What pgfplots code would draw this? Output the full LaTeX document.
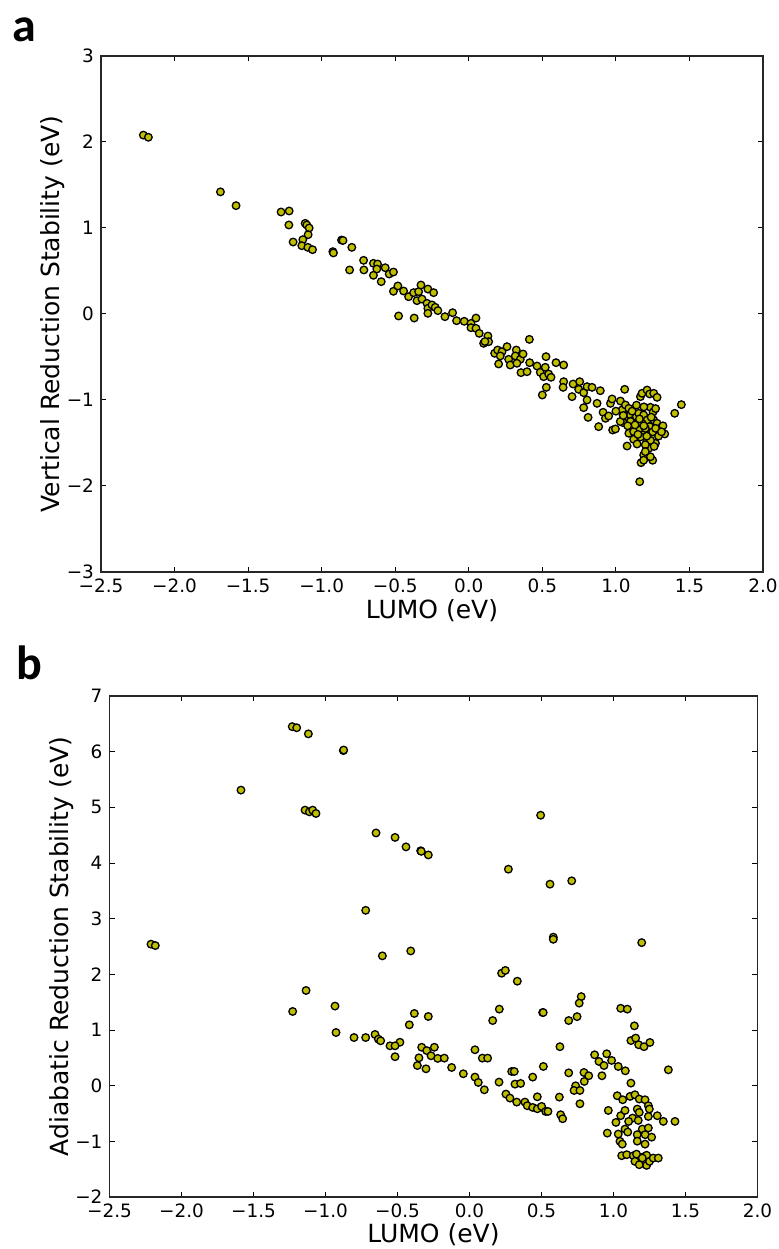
\documentclass[border=0pt]{standalone}
\usepackage{fontspec}
\setmainfont{DejaVu Sans}
\newfontfamily\carlito{Carlito}
\usepackage{pgfplots}
\pgfplotsset{compat=1.18}

\definecolor{mplyellow}{rgb}{0.75,0.75,0}

\pgfplotsset{
  panel/.style={
    scale only axis,
    anchor=south west,
    xmin=-2.5, xmax=2.0,
    xtick={-2.5,-2.0,-1.5,-1.0,-0.5,0,0.5,1.0,1.5,2.0},
    xticklabels={−2.5,−2.0,−1.5,−1.0,−0.5,0.0,0.5,1.0,1.5,2.0},
    tick align=inside,
    major tick length=2.5pt,
    tick style={black, line width=0.5pt},
    axis line style={black!85, line width=0.9pt},
    ticklabel style={font=\fontsize{9.2}{11}\selectfont},
    label style={font=\fontsize{12.5}{15}\selectfont},
    xlabel={LUMO (eV)},
    xlabel style={anchor=center},
    ylabel style={anchor=center},
    clip=false,
  },
  dots/.style={
    only marks, mark=*, mark size=1.9pt,
    mark options={fill=mplyellow, draw=black, line width=0.65pt},
  },
}

\begin{document}
\begin{tikzpicture}
\path[use as bounding box] (0,0) rectangle (389pt,624.5pt);

% panel a
\begin{axis}[panel,
  at={(50.5pt,338.5pt)},
  width=331pt, height=258pt,
  ymin=-3, ymax=3,
  ytick={-3,-2,-1,0,1,2,3},
  yticklabels={−3,−2,−1,0,1,2,3},
  ylabel={Vertical Reduction Stability (eV)},
  xlabel style={at={(axis description cs:0.5,-0.074)}},
  ylabel style={at={(axis description cs:-0.0725,0.5)}},
]
\addplot[dots] table {
-2.212 2.080
-2.178 2.055
-1.688 1.420
-1.582 1.260
-1.276 1.186
-1.221 1.198
-1.223 1.035
-1.112 1.054
-1.101 1.035
-1.085 1.000
-1.092 0.922
-1.128 0.864
-1.194 0.837
-1.135 0.794
-1.094 0.775
-1.062 0.748
-0.924 0.725
-0.920 0.710
-0.865 0.860
-0.855 0.855
-0.795 0.775
-0.810 0.512
-0.715 0.624
-0.713 0.512
-0.648 0.589
-0.620 0.581
-0.625 0.523
-0.648 0.450
-0.595 0.376
-0.568 0.538
-0.541 0.465
-0.512 0.488
-0.512 0.264
-0.482 0.326
-0.477 -0.023
-0.443 0.267
-0.409 0.201
-0.375 0.248
-0.341 0.260
-0.325 0.337
-0.278 0.290
-0.239 0.248
-0.352 0.155
-0.318 0.174
-0.284 0.124
-0.278 0.066
-0.278 0.008
-0.250 0.105
-0.228 0.078
-0.210 0.039
-0.371 -0.047
-0.162 -0.031
-0.110 0.015
-0.083 -0.078
-0.031 -0.085
0.015 -0.109
0.049 -0.047
0.015 -0.159
0.049 -0.167
0.071 -0.225
0.130 -0.256
0.135 -0.322
0.101 -0.341
0.110 -0.320
0.412 -0.295
0.176 -0.457
0.196 -0.419
0.226 -0.438
0.260 -0.380
0.214 -0.488
0.203 -0.581
0.271 -0.527
0.282 -0.593
0.323 -0.419
0.316 -0.488
0.350 -0.527
0.369 -0.465
0.327 -0.573
0.355 -0.682
0.396 -0.671
0.414 -0.566
0.464 -0.605
0.486 -0.678
0.525 -0.496
0.520 -0.620
0.509 -0.729
0.543 -0.698
0.559 -0.736
0.527 -0.853
0.500 -0.942
0.593 -0.566
0.645 -0.593
0.645 -0.787
0.641 -0.853
0.709 -0.814
0.754 -0.787
0.747 -0.876
0.702 -0.961
0.781 -0.915
0.804 -0.845
0.838 -0.853
0.804 -1.000
0.781 -1.089
0.811 -1.202
0.894 -0.892
0.872 -1.039
0.883 -1.310
0.913 -1.143
0.929 -1.213
0.963 -1.039
0.974 -0.988
0.951 -1.186
0.978 -1.349
0.997 -1.337
1.031 -1.012
1.060 -0.876
1.042 -1.116
1.065 -1.058
1.088 -1.097
1.071 -1.194
1.049 -1.264
1.099 -1.174
1.121 -1.233
1.110 -1.310
1.088 -1.387
1.076 -1.535
1.121 -1.457
1.144 -1.512
1.139 -1.194
1.155 -1.155
1.189 -1.174
1.167 -0.961
1.178 -0.922
1.212 -0.884
1.230 -0.930
1.257 -0.922
1.280 -0.969
1.235 -1.085
1.253 -1.140
1.212 -1.233
1.230 -1.310
1.257 -1.233
1.280 -1.271
1.314 -1.310
1.332 -1.395
1.291 -1.368
1.257 -1.426
1.212 -1.387
1.178 -1.387
1.155 -1.349
1.121 -1.368
1.212 -1.465
1.269 -1.504
1.224 -1.562
1.189 -1.640
1.171 -1.729
1.189 -1.700
1.250 -1.701
1.235 -1.660
1.162 -1.950
1.400 -1.155
1.445 -1.054
1.144 -1.271
1.178 -1.271
1.200 -1.330
1.250 -1.370
1.167 -1.430
1.235 -1.470
1.300 -1.330
1.320 -1.300
1.099 -1.250
1.030 -1.250
1.000 -1.130
1.110 -1.130
1.130 -1.290
1.160 -1.220
1.190 -1.300
1.210 -1.420
1.240 -1.200
1.270 -1.330
1.290 -1.420
1.150 -1.400
1.200 -1.520
1.260 -1.540
1.140 -1.060
1.190 -1.080
1.080 -1.300
1.050 -1.180
1.270 -1.100
1.310 -1.370
1.200 -1.600
};
\end{axis}

% panel b
\begin{axis}[panel,
  at={(54.75pt,26pt)},
  width=324pt, height=250.5pt,
  ymin=-2, ymax=7,
  ytick={-2,-1,0,1,2,3,4,5,6,7},
  yticklabels={−2,−1,0,1,2,3,4,5,6,7},
  ylabel={Adiabatic Reduction Stability (eV)},
  xlabel style={at={(axis description cs:0.5,-0.076)}},
  ylabel style={at={(axis description cs:-0.074,0.5)}},
]
\addplot[dots] table {
-2.212 2.542
-2.182 2.517
-1.587 5.310
-1.231 6.450
-1.200 6.430
-1.119 6.320
-0.876 6.020
-0.874 6.030
-1.142 4.950
-1.112 4.920
-1.089 4.950
-1.066 4.890
-0.649 4.540
-0.517 4.460
-0.441 4.290
-0.339 4.220
-0.335 4.210
-0.286 4.145
-0.721 3.150
0.494 4.858
0.270 3.889
0.559 3.620
0.710 3.680
-0.408 2.420
0.582 2.668
0.582 2.630
1.196 2.570
0.223 2.020
0.249 2.070
0.332 1.877
0.776 1.600
0.762 1.483
0.207 1.375
0.161 1.170
0.508 1.314
0.512 1.314
0.689 1.170
0.747 1.240
1.050 1.390
1.096 1.375
1.145 1.075
1.121 0.810
1.154 0.855
1.175 0.735
1.212 0.700
1.253 0.776
-0.383 1.297
-0.418 1.093
-0.286 1.243
-0.483 0.780
-0.332 0.690
-0.297 0.630
-0.244 0.690
-0.267 0.537
-0.221 0.490
-0.175 0.495
-0.351 0.500
-0.362 0.362
-0.302 0.303
-0.124 0.327
-0.043 0.214
0.038 0.645
0.089 0.495
0.126 0.495
0.038 0.154
0.061 0.058
0.103 -0.074
0.205 0.064
0.253 -0.151
0.281 -0.223
0.328 -0.295
0.293 0.255
0.311 0.255
0.316 0.028
0.355 0.040
0.385 -0.295
0.401 -0.360
0.439 0.154
0.439 -0.391
0.471 -0.200
0.471 -0.415
0.501 -0.373
0.513 0.345
0.529 -0.463
0.545 -0.463
0.628 0.700
0.624 -0.205
0.633 -0.522
0.647 -0.594
0.689 0.230
0.737 -0.002
0.726 -0.086
0.767 -0.086
0.767 -0.325
0.795 0.237
0.797 0.076
0.828 0.178
0.869 0.555
0.899 0.435
0.934 0.362
0.920 0.178
0.953 0.573
0.987 0.453
1.033 0.345
1.082 0.267
1.121 0.046
1.381 0.285
0.964 -0.445
0.957 -0.852
1.026 -0.181
1.064 -0.253
1.017 -0.660
1.050 -0.540
1.080 -0.445
1.115 -0.193
1.149 -0.163
1.179 -0.240
1.219 -0.253
1.242 -0.360
1.249 -0.420
1.165 -0.420
1.179 -0.480
1.133 -0.582
1.105 -0.642
1.172 -0.624
1.242 -0.553
1.304 -0.540
1.346 -0.642
1.427 -0.642
1.080 -0.780
1.099 -0.833
1.033 -0.869
1.045 -1.000
1.061 -1.050
1.165 -0.880
1.165 -0.997
1.200 -0.780
1.220 -0.880
1.242 -0.760
1.265 -0.925
1.219 -1.050
1.057 -1.258
1.092 -1.240
1.138 -1.258
1.160 -1.230
1.149 -1.360
1.179 -1.420
1.207 -1.280
1.230 -1.250
1.230 -1.432
1.250 -1.360
1.276 -1.300
1.311 -1.300
1.200 -1.300
-1.228 1.333
-1.135 1.710
-0.934 1.430
-0.927 0.955
-0.802 0.865
-0.721 0.865
-0.605 2.332
-0.656 0.920
-0.633 0.836
-0.617 0.806
-0.552 0.716
-0.517 0.716
-0.517 0.520
};
\end{axis}

\node at (12pt,609.5pt) {\carlito\bfseries\fontsize{24}{24}\selectfont a};
\node at (14.5pt,293pt) {\carlito\bfseries\fontsize{24}{24}\selectfont b};
\end{tikzpicture}
\end{document}
